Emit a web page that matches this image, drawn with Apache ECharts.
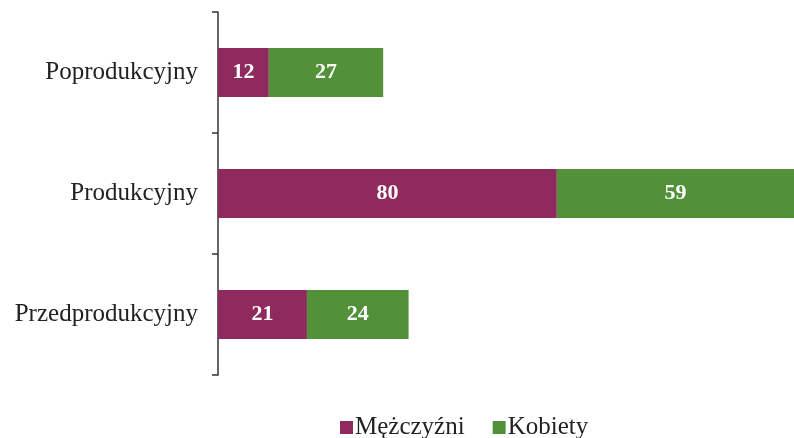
<!DOCTYPE html>
<html><head><meta charset="utf-8">
<script src="https://cdn.jsdelivr.net/npm/echarts@6/dist/echarts.min.js"></script>
<style>html,body{margin:0;padding:0;background:#fff}#c{width:794px;height:438px}</style>
</head><body><div id="c"></div>
<script>
const categories = ['Przedprodukcyjny', 'Produkcyjny', 'Poprodukcyjny'];
const men = [21, 80, 12];
const women = [24, 59, 27];
const seriesNames = ['Mężczyźni', 'Kobiety'];
const font = '"Liberation Serif", "DejaVu Serif", serif';
const chart = echarts.init(document.getElementById('c'));
const label = { show: true, position: 'inside', color: '#fff', fontFamily: font, fontSize: 22, fontWeight: 'bold' };
chart.setOption({
  animation: false,
  grid: { left: 218, right: 0, top: 12, bottom: 63 },
  xAxis: { type: 'value', min: 0, max: 136, show: false },
  yAxis: {
    type: 'category', data: categories,
    axisLine: { show: true, lineStyle: { color: '#333', width: 1.5 } },
    axisTick: { show: true, length: 6, lineStyle: { color: '#333', width: 1.5 } },
    axisLabel: { color: '#222', fontFamily: font, fontSize: 25, margin: 20 }
  },
  legend: {
    left: 335, top: 410, itemWidth: 13, itemHeight: 13, itemGap: 28,
    icon: 'rect',
    textStyle: { color: '#222', fontFamily: font, fontSize: 25, padding: [0, 0, 0, -3] },
    data: seriesNames
  },
  series: [
    { name: seriesNames[0], type: 'bar', stack: 's', data: men, barWidth: 49, clip: true,
      itemStyle: { color: '#8E2A5E' }, label },
    { name: seriesNames[1], type: 'bar', stack: 's', data: women, barWidth: 49, clip: true,
      itemStyle: { color: '#52903A' }, label }
  ]
});
</script></body></html>
